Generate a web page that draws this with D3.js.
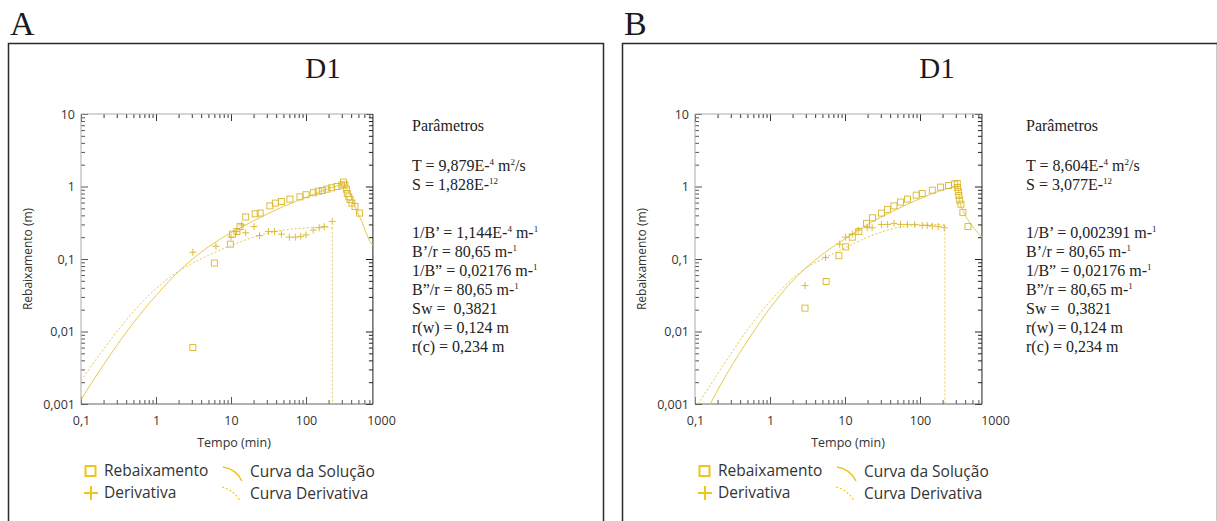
<!DOCTYPE html>
<html>
<head>
<meta charset="utf-8">
<script src="https://cdnjs.cloudflare.com/ajax/libs/d3/7.8.5/d3.min.js"></script>
<style>
  body { margin: 0; background: #fff; }
</style>
</head>
<body>
<div id="chart"></div>
<script>
// data (tempo in min, rebaixamento in m)

var xTicks = [0.1, 1, 10, 100, 1000],
    xTickLabels = ["0,1", "1", "10", "100", "1000"],
    yTicks = [0.001, 0.01, 0.1, 1, 10],
    yTickLabels = ["0,001", "0,01", "0,1", "1", "10"];

var rebaixamentoA = [[3.1,0.006],[6,0.088],[9.8,0.16],[10.5,0.22],[12,0.24],[13.2,0.28],[15.7,0.38],[21,0.42],[24.5,0.43],[33,0.54],[39,0.59],[47,0.62],[61,0.67],[83,0.72],[100,0.77],[125,0.82],[146,0.86],[165,0.88],[190,0.92],[220,0.96],[260,1.0],[300,1.05],[316,1.15],[330,1.05],[345,0.92],[355,0.8],[372,0.72],[387,0.66],[410,0.59],[450,0.53],[518,0.43]];
var derivativaA = [[3.1,0.124],[6.3,0.15],[10,0.2],[11.9,0.24],[13.9,0.295],[15.7,0.23],[20.3,0.28],[24,0.21],[31.5,0.24],[38,0.24],[47,0.22],[60,0.2],[72,0.2],[85,0.205],[100,0.215],[125,0.25],[150,0.27],[175,0.28],[224,0.33]];
var solucaoA = [[0.1,0.00115],[0.2,0.00348],[0.5,0.0132],[1,0.0313],[2,0.067],[3,0.098],[5,0.147],[10,0.23],[20,0.336],[50,0.53],[100,0.71],[200,0.94],[300,1.08],[320,1.12],[340,0.95],[386,0.81],[450,0.53],[553,0.33],[736,0.166],[780,0.155]];
var curvaDerivA = [[0.1,0.0021],[0.2,0.0057],[0.5,0.0189],[1,0.039],[2,0.068],[3,0.0867],[5,0.112],[10,0.153],[20,0.2],[50,0.25],[100,0.268],[150,0.273],[200,0.274],[224,0.27]];

var rebaixamentoB = [[2.93,0.021],[5.6,0.049],[8.3,0.111],[10.2,0.147],[12.5,0.2],[15.3,0.24],[19.3,0.31],[23.3,0.37],[30.6,0.43],[36.8,0.48],[45,0.54],[55,0.61],[68,0.67],[89,0.76],[107,0.8],[146,0.89],[188,0.98],[240,1.03],[290,1.08],[314,1.1],[318,0.97],[324,0.85],[330,0.75],[338,0.65],[352,0.57],[373,0.44],[436,0.28]];
var derivativaB = [[2.93,0.043],[5.5,0.105],[8.5,0.16],[10.2,0.2],[12.5,0.22],[15,0.25],[19.8,0.27],[23,0.27],[30.6,0.3],[37,0.3],[45,0.31],[55,0.3],[68,0.3],[85,0.3],[107,0.29],[125,0.29],[146,0.285],[175,0.28],[210,0.27]];
var solucaoB = [[0.16,0.001],[0.2,0.00155],[0.5,0.0074],[1,0.021],[2,0.05],[3,0.075],[5,0.116],[10,0.19],[20,0.3],[50,0.49],[100,0.68],[200,0.9],[300,1.04],[316,1.09],[325,0.85],[340,0.62],[380,0.45],[450,0.33],[550,0.25],[680,0.195]];
var curvaDerivB = [[0.11,0.001],[0.2,0.0026],[0.5,0.0105],[1,0.026],[2,0.054],[3,0.075],[5,0.1],[10,0.142],[20,0.2],[50,0.27],[100,0.295],[150,0.3],[200,0.295],[215,0.29]];

// ^ marks superscript pieces
var paramsA = ["T = 9,879E-^4^ m^2^/s", "S = 1,828E-^12^", "", "1/B’ = 1,144E-^4^ m-^1^", "B’/r = 80,65 m-^1^", "1/B” = 0,02176 m-^1^", "B”/r = 80,65 m-^1^", "Sw = \u00a00,3821", "r(w) = 0,124 m", "r(c) = 0,234 m"];
var paramsB = ["T = 8,604E-^4^ m^2^/s", "S = 3,077E-^12^", "", "1/B’ = 0,002391 m-^1^", "B’/r = 80,65 m-^1^", "1/B” = 0,02176 m-^1^", "B”/r = 80,65 m-^1^", "Sw = \u00a00,3821", "r(w) = 0,124 m", "r(c) = 0,234 m"];

var legendLabels = ["Rebaixamento", "Derivativa", "Curva da Solução", "Curva Derivativa"];

var w = 1217, h = 521,
    ph = 290,
    yellowPt = "#d9b62a",
    yellowLn = "#e3ca50",
    yellowLeg = "#efc51c",
    svg = d3.select("#chart").append("svg")
        .attr("width", w)
        .attr("height", h)
        .style("display", "block");

svg.append("rect").attr("width", w).attr("height", h).attr("fill", "#fff");

var y = d3.scaleLog().domain([0.001, 10]).range([ph, 0]);

render_panel({ letter: "A", ox: 0, xMax: 780, reb: rebaixamentoA, der: derivativaA, sol: solucaoA, cder: curvaDerivA, params: paramsA, id: "a" });
render_panel({ letter: "B", ox: 614, xMax: 670, reb: rebaixamentoB, der: derivativaB, sol: solucaoB, cder: curvaDerivB, params: paramsB, id: "b" });

function minors(dom) {
    var out = [];
    for (var e = -3; e <= 3; e++) {
        for (var k = 2; k <= 9; k++) {
            var v = k * Math.pow(10, e);
            if (v > dom[0] && v < dom[1]) out.push(v);
        }
    }
    return out;
}

function render_panel(c) {
    var ox = c.ox;
    var x = d3.scaleLog().domain([0.1, 1000]).range([0, 300]);
    var pw = x(c.xMax);

    // frame, letter and title
    svg.append("rect")
        .attr("x", ox + 8.5).attr("y", 43.5)
        .attr("width", 595).attr("height", 520)
        .attr("fill", "none").attr("stroke", "#2a2a2a").attr("stroke-width", 1.5);
    svg.append("text")
        .attr("x", ox + 10).attr("y", 35)
        .attr("font-family", "Liberation Serif").attr("font-size", "34px")
        .attr("fill", "#1a1a1a").text(c.letter);
    svg.append("text")
        .attr("x", ox + 323).attr("y", 78).attr("text-anchor", "middle")
        .attr("font-family", "Liberation Serif").attr("font-size", "29px")
        .attr("fill", "#1a1a1a").text("D1");

    var g = svg.append("g").attr("transform", "translate(" + (ox + 81) + ",114)");

    g.append("clipPath").attr("id", "clip" + c.id)
        .append("rect").attr("width", pw).attr("height", ph);

    // ticks on all four sides, pointing inward
    var xm = minors([0.1, c.xMax]), ym = minors([0.001, 10]);
    var xMaj = xTicks.filter(function(d) { return d < c.xMax; });
    function style(sel, col) {
        sel.select(".domain").remove();
        sel.selectAll("line").attr("stroke", col);
    }
    g.append("g").attr("transform", "translate(0," + ph + ")")
        .call(d3.axisBottom(x).tickValues(xm).tickSize(-4).tickFormat("")).call(style, "#555");
    g.append("g").attr("transform", "translate(0," + ph + ")")
        .call(d3.axisBottom(x).tickValues(xMaj).tickSize(-7).tickFormat("")).call(style, "#555");
    g.append("g")
        .call(d3.axisTop(x).tickValues(xm).tickSize(-4).tickFormat("")).call(style, "#333");
    g.append("g")
        .call(d3.axisTop(x).tickValues(xMaj).tickSize(-7).tickFormat("")).call(style, "#333");
    g.append("g")
        .call(d3.axisLeft(y).tickValues(ym).tickSize(-4).tickFormat("")).call(style, "#555");
    g.append("g")
        .call(d3.axisLeft(y).tickValues(yTicks).tickSize(-7).tickFormat("")).call(style, "#555");
    g.append("g").attr("transform", "translate(" + pw + ",0)")
        .call(d3.axisRight(y).tickValues(ym).tickSize(-4).tickFormat("")).call(style, "#222");
    g.append("g").attr("transform", "translate(" + pw + ",0)")
        .call(d3.axisRight(y).tickValues(yTicks).tickSize(-7).tickFormat("")).call(style, "#222");

    // box
    g.append("path").attr("d", "M0,0H" + pw).attr("stroke", "#aaa").attr("fill", "none");
    g.append("path").attr("d", "M0,0V" + ph).attr("stroke", "#aaa").attr("fill", "none");
    g.append("path").attr("d", "M0," + ph + "H" + pw).attr("stroke", "#666").attr("fill", "none");
    g.append("path").attr("d", "M" + pw + ",0V" + ph).attr("stroke", "#222").attr("fill", "none");

    // tick labels
    var xl = g.append("g").attr("transform", "translate(0," + ph + ")")
        .call(d3.axisBottom(x).tickValues(xTicks).tickSize(0).tickPadding(12)
              .tickFormat(function(d, i) { return xTickLabels[i]; }));
    xl.select(".domain").remove();
    xl.selectAll("text").attr("font-family", "Open Sans").attr("font-size", "12.5px").attr("fill", "#333");
    var yl = g.append("g")
        .call(d3.axisLeft(y).tickValues(yTicks).tickSize(0).tickPadding(6)
              .tickFormat(function(d, i) { return yTickLabels[i]; }));
    yl.select(".domain").remove();
    yl.selectAll("text").attr("font-family", "Open Sans").attr("font-size", "12.5px").attr("fill", "#333");

    g.append("text")
        .attr("x", 153).attr("y", ph + 43).attr("text-anchor", "middle")
        .attr("font-family", "Open Sans").attr("font-size", "12.5px").attr("fill", "#333")
        .text("Tempo (min)");
    g.append("text")
        .attr("transform", "translate(-49," + ph / 2 + ") rotate(-90)")
        .attr("text-anchor", "middle")
        .attr("font-family", "Open Sans").attr("font-size", "12px").attr("fill", "#333")
        .text("Rebaixamento (m)");

    // curves
    var line = d3.line()
        .x(function(d) { return x(d[0]); })
        .y(function(d) { return y(d[1]); })
        .curve(d3.curveMonotoneX);
    var plot = g.append("g").attr("clip-path", "url(#clip" + c.id + ")");
    plot.append("path").datum(c.sol)
        .attr("d", line).attr("fill", "none")
        .attr("stroke", yellowLn).attr("stroke-width", 1);
    plot.append("path").datum(c.cder)
        .attr("d", line).attr("fill", "none")
        .attr("stroke", yellowLn).attr("stroke-width", 1).attr("stroke-dasharray", "2,2");
    var last = c.cder[c.cder.length - 1];
    plot.append("path").datum([last, [last[0], 0.001]])
        .attr("d", d3.line().x(function(d) { return x(d[0]); }).y(function(d) { return y(d[1]); }))
        .attr("fill", "none").attr("stroke", yellowLn).attr("stroke-width", 1).attr("stroke-dasharray", "2,2");

    // points
    plot.selectAll(".reb").data(c.reb).enter().append("rect")
        .attr("x", function(d) { return x(d[0]) - 3; })
        .attr("y", function(d) { return y(d[1]) - 3; })
        .attr("width", 6).attr("height", 6)
        .attr("fill", "none").attr("stroke", yellowPt).attr("stroke-width", 0.9);
    plot.selectAll(".der").data(c.der).enter().append("path")
        .attr("transform", function(d) { return "translate(" + x(d[0]) + "," + y(d[1]) + ")"; })
        .attr("d", "M-3.5,0H3.5M0,-3.5V3.5")
        .attr("fill", "none").attr("stroke", yellowPt).attr("stroke-width", 0.9);

    // parameters
    var pt = svg.append("g").attr("font-family", "Liberation Serif").attr("font-size", "16px")
        .attr("fill", "#222");
    pt.append("text").attr("x", ox + 412).attr("y", 131).text("Parâmetros");
    c.params.forEach(function(s, i) {
        if (!s) return;
        var t = pt.append("text").attr("x", ox + 412).attr("y", 171 + i * 19 + (i >= 3 ? 10 : 0));
        s.split("^").forEach(function(part, j) {
            if (!part) return;
            var ts = t.append("tspan").text(part);
            if (j % 2) ts.attr("font-size", "9px").attr("dy", -6);
            else if (j > 0) ts.attr("dy", 6);
        });
    });

    // legend
    var lg = svg.append("g").attr("transform", "translate(" + ox + ",0)")
        .attr("font-family", "Open Sans").attr("font-size", "15.5px").attr("fill", "#333");
    lg.append("rect").attr("x", 85.5).attr("y", 466).attr("width", 10).attr("height", 10)
        .attr("fill", "none").attr("stroke", yellowLeg).attr("stroke-width", 2);
    lg.append("path").attr("d", "M84,493H98M91,486V500")
        .attr("fill", "none").attr("stroke", yellowLeg).attr("stroke-width", 2);
    lg.append("path").attr("d", "M223,467Q236,469 242,481")
        .attr("fill", "none").attr("stroke", yellowLeg).attr("stroke-width", 1.5);
    lg.append("path").attr("d", "M222,487Q234,490 240,501")
        .attr("fill", "none").attr("stroke", yellowLeg).attr("stroke-width", 1.2).attr("stroke-dasharray", "2,2");
    lg.append("text").attr("x", 104).attr("y", 476).text(legendLabels[0]);
    lg.append("text").attr("x", 104).attr("y", 498).text(legendLabels[1]);
    lg.append("text").attr("x", 250).attr("y", 477).text(legendLabels[2]);
    lg.append("text").attr("x", 250).attr("y", 499).text(legendLabels[3]);
}
</script>
</body>
</html>
